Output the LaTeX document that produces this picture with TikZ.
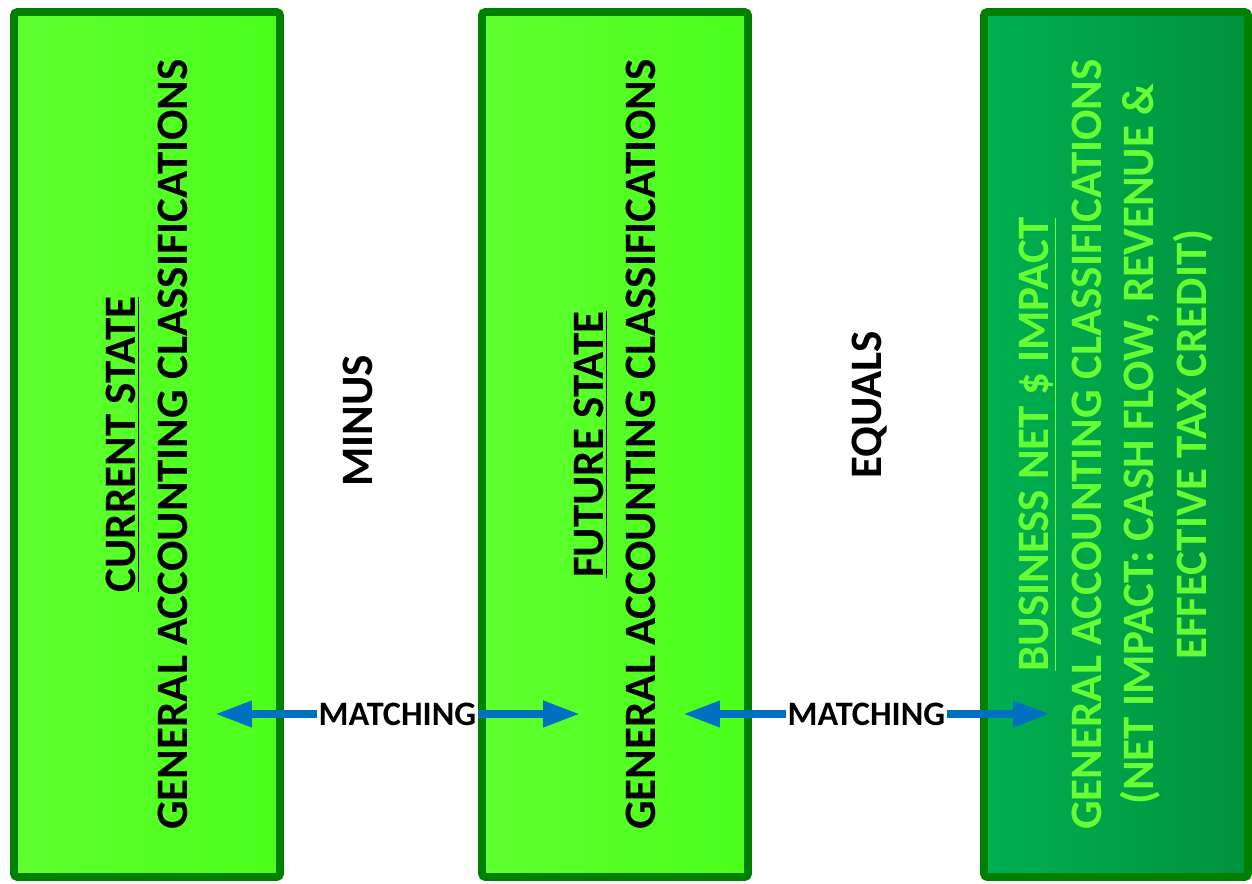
\documentclass[tikz,border=0pt]{standalone}
\usepackage{fontspec}
\setmainfont{Carlito}
\usetikzlibrary{arrows.meta}
\definecolor{panelline}{RGB}{0,128,0}
\definecolor{limeL}{RGB}{96,255,48}
\definecolor{limeR}{RGB}{74,255,26}
\definecolor{darkL}{RGB}{0,176,80}
\definecolor{darkR}{RGB}{0,146,62}
\definecolor{paletext}{RGB}{102,255,51}
\definecolor{arrowblue}{RGB}{0,112,192}

\begin{document}
\begin{tikzpicture}[
    panel/.style={draw=panelline, line width=4.5pt, rounded corners=2pt,
        minimum width=5.32cm, minimum height=17.3cm, inner sep=0pt},
    vtext/.style={rotate=90, align=center, font=\fontsize{25.6}{30}\selectfont\bfseries},
    matcharrow/.style={arrowblue, line width=4.5pt,
        {Triangle[length=21pt,width=14pt]}-{Triangle[length=21pt,width=14pt]}},
    matchlabel/.style={fill=white, text=black, inner sep=1pt,
        font=\fontsize{19.5}{22}\selectfont\bfseries}
]
    \useasboundingbox (0,0) rectangle (25.04,17.66);

    % Three state panels
    \node[panel, left color=limeL, right color=limeR] (cur) at (2.94,8.77) {};
    \node[panel, left color=limeL, right color=limeR] (fut) at (12.30,8.77) {};
    \node[panel, left color=darkL, right color=darkR, minimum width=5.28cm] (net) at (22.32,8.77) {};

    % Panel texts
    \node[vtext] (curtxt) at (cur.center) {\underline{CURRENT STATE}\\GENERAL ACCOUNTING CLASSIFICATIONS};
    \node[vtext] (futtxt) at (fut.center) {\underline{FUTURE STATE}\\GENERAL ACCOUNTING CLASSIFICATIONS};
    \node[vtext, text=paletext] (nettxt) at (net.center)
        {\underline{BUSINESS NET \$ IMPACT}\\GENERAL ACCOUNTING CLASSIFICATIONS\\(NET IMPACT: CASH FLOW, REVENUE \&\\EFFECTIVE TAX CREDIT)};

    % Operators between panels
    \node[vtext] (minus) at (7.16,9.24) {MINUS};
    \node[vtext] (equals) at (17.40,9.56) {EQUALS};

    % Matching arrows
    \coordinate (m1l) at (4.30,3.38);
    \coordinate (m1r) at (11.60,3.38);
    \coordinate (m2l) at (13.66,3.38);
    \coordinate (m2r) at (21.00,3.38);
    \draw[matcharrow] (m1l) -- (m1r) node[midway, matchlabel] (match1) {MATCHING};
    \draw[matcharrow] (m2l) -- (m2r) node[midway, matchlabel] (match2) {MATCHING};
\end{tikzpicture}
\end{document}
